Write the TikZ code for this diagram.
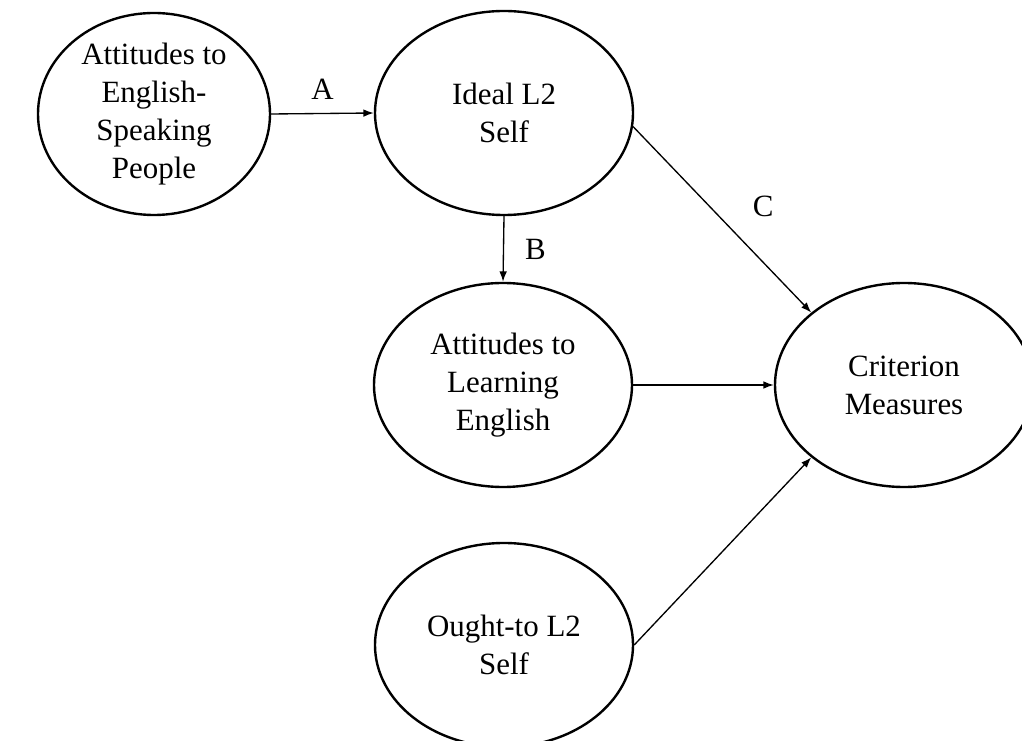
\documentclass[tikz,border=0pt]{standalone}
\usepackage{fontspec}
\setmainfont{Liberation Serif}
\usetikzlibrary{shapes.geometric,arrows.meta}
\tikzset{
	latent/.style={draw, ellipse, line width=1.7pt, inner sep=0pt, align=center, minimum width=6.45cm, minimum height=5.1cm, font=\fontsize{22}{27}\selectfont},
	regpath/.style={line width=0.95pt, -{Latex[length=2.6mm,width=1.9mm]}},
	pathlabel/.style={font=\fontsize{22}{27}\selectfont, inner sep=0pt}
}

\begin{document}
\begin{tikzpicture}
			%%%%% START %%%%%
			
			\useasboundingbox (0, 0) rectangle (25.55, 18.5);
			
			\node[latent, minimum width=5.8cm, minimum height=5.05cm] (speakers) at (3.85, 15.65) {Attitudes to\\English-\\Speaking\\People};
			\node[latent] (ideal) at (12.6, 15.675) {Ideal L2\\Self};
			\node[latent] (learning) at (12.575, 8.875) {Attitudes to\\Learning\\English};
			\node[latent] (ought) at (12.6, 2.375) {Ought-to L2\\Self};
			\node[latent] (criterion) at (22.6, 8.875) {Criterion\\Measures};
			
			\draw[regpath] (speakers.east) -- node[pathlabel, yshift=0.6cm] (labA) {A} (ideal.west);
			\draw[regpath] (ideal.south) -- node[pathlabel, xshift=0.8cm] (labB) {B} (learning.north);
			\draw[regpath] (ideal.-6) -- node[pathlabel, xshift=1.025cm, yshift=0.325cm] (labC) {C} (criterion.142);
			\draw[regpath] (learning.east) -- (criterion.west);
			\draw[regpath] (ought.east) -- (criterion.218);
			
			%%%%% END %%%%%
		\end{tikzpicture}
\end{document}
